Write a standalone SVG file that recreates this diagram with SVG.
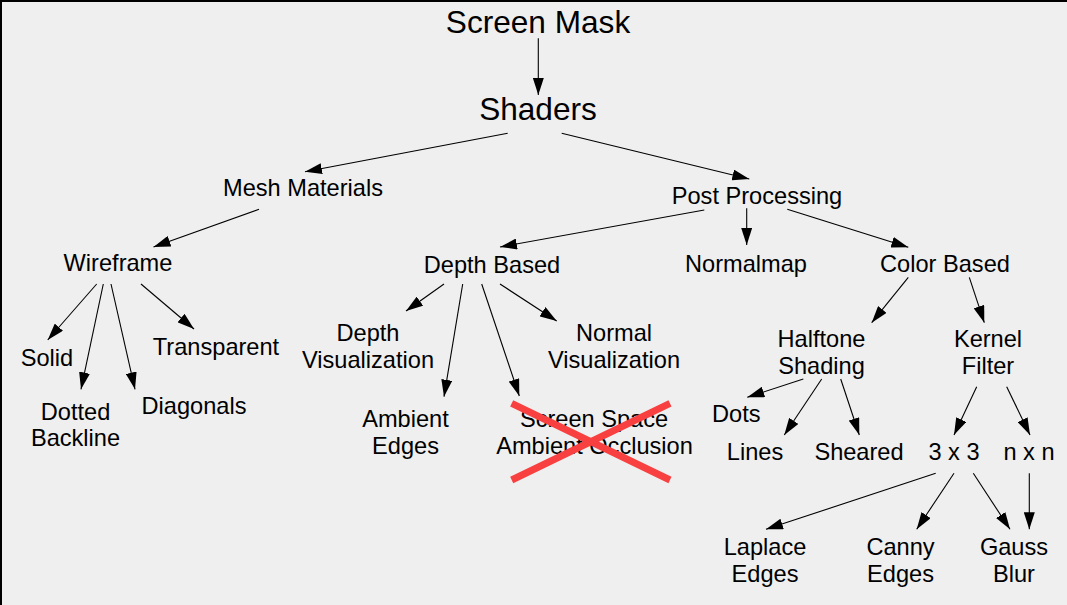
<svg xmlns="http://www.w3.org/2000/svg" width="1067" height="605" viewBox="0 0 1067 605">
<defs>
<style>
text{font-family:"Liberation Sans",Arial,sans-serif;fill:#000;text-anchor:middle;font-size:23.6px}
.big{font-size:31.6px}
.c{fill:none;stroke:#000;stroke-width:1.1}
.x{stroke:#f84040;stroke-width:7;fill:none}
</style>
<marker id="ah" markerUnits="userSpaceOnUse" markerWidth="17" markerHeight="11" refX="17" refY="5.5" orient="auto">
<path d="M0,0 L17,5.5 L0,11 z" fill="#000"/>
</marker>
</defs>
<rect width="1067" height="605" fill="#efefef"/>
<path d="M1,605 V1 H1067" fill="none" stroke="#000" stroke-width="2"/>
<g id="connectors">
<path class="c" marker-end="url(#ah)" d="M538.3,38.3 L538.3,95"/>
<path class="c" marker-end="url(#ah)" d="M507.7,133.3 L305,171.7"/>
<path class="c" marker-end="url(#ah)" d="M561.7,133.3 L749.3,179"/>
<path class="c" marker-end="url(#ah)" d="M259,209.3 L153.5,247"/>
<path class="c" marker-end="url(#ah)" d="M704.3,210 L500,247"/>
<path class="c" marker-end="url(#ah)" d="M746.7,208.3 L746.7,245"/>
<path class="c" marker-end="url(#ah)" d="M787.3,209.3 L908.3,247.3"/>
<path class="c" marker-end="url(#ah)" d="M908.3,277.3 L871.7,322.7"/>
<path class="c" marker-end="url(#ah)" d="M969.3,277.3 L984.3,322.7"/>
<path class="c" marker-end="url(#ah)" d="M96.7,284 L47.7,340"/>
<path class="c" marker-end="url(#ah)" d="M103.3,284 L81,389.3"/>
<path class="c" marker-end="url(#ah)" d="M111,284 L135,389.3"/>
<path class="c" marker-end="url(#ah)" d="M141,284 L194,329"/>
<path class="c" marker-end="url(#ah)" d="M444,284 L406,311"/>
<path class="c" marker-end="url(#ah)" d="M462.7,284 L444,396.7"/>
<path class="c" marker-end="url(#ah)" d="M481.7,284 L519.3,396"/>
<path class="c" marker-end="url(#ah)" d="M500,284 L556.7,321"/>
<path class="c" marker-end="url(#ah)" d="M803.3,379 L747.3,397.3"/>
<path class="c" marker-end="url(#ah)" d="M821.7,379 L784.3,435"/>
<path class="c" marker-end="url(#ah)" d="M840.7,379 L859.3,435"/>
<path class="c" marker-end="url(#ah)" d="M976.7,386.7 L954,435"/>
<path class="c" marker-end="url(#ah)" d="M1006.7,386.7 L1030,435"/>
<path class="c" marker-end="url(#ah)" d="M935.7,473.3 L766,529.3"/>
<path class="c" marker-end="url(#ah)" d="M954,473.3 L916.7,529.3"/>
<path class="c" marker-end="url(#ah)" d="M973.3,473.3 L1010,529.3"/>
<path class="c" marker-end="url(#ah)" d="M1029.3,473.3 L1029.3,529.3"/>
</g>
<g id="screen-mask"><text class="big" x="538" y="33">Screen Mask</text></g>
<g id="shaders"><text class="big" x="538" y="120">Shaders</text></g>
<g id="mesh-materials"><text x="303" y="196">Mesh Materials</text></g>
<g id="post-processing"><text x="757" y="204">Post Processing</text></g>
<g id="wireframe"><text x="118" y="271">Wireframe</text></g>
<g id="depth-based"><text x="492" y="272.5">Depth Based</text></g>
<g id="normalmap"><text x="746" y="272">Normalmap</text></g>
<g id="color-based"><text x="945" y="272">Color Based</text></g>
<g id="solid"><text x="47" y="366">Solid</text></g>
<g id="transparent"><text x="216" y="354.5">Transparent</text></g>
<g id="dotted-backline"><text x="75.5" y="420">Dotted</text><text x="75.5" y="446">Backline</text></g>
<g id="diagonals"><text x="194" y="414">Diagonals</text></g>
<g id="depth-visualization"><text x="368" y="341">Depth</text><text x="368" y="367.5">Visualization</text></g>
<g id="normal-visualization"><text x="614" y="341">Normal</text><text x="614" y="367.5">Visualization</text></g>
<g id="ambient-edges"><text x="405.5" y="427">Ambient</text><text x="405.5" y="453.5">Edges</text></g>
<g id="ssao"><text x="594" y="427">Screen Space</text><text x="594.5" y="453.5">Ambient Occlusion</text>
<path class="x" d="M511.7,403.3 L670,480 M511.7,480 L670,403.3"/></g>
<g id="halftone-shading"><text x="821.5" y="347">Halftone</text><text x="821.5" y="373.5">Shading</text></g>
<g id="kernel-filter"><text x="988" y="347">Kernel</text><text x="988" y="373.5">Filter</text></g>
<g id="dots"><text x="736.3" y="422">Dots</text></g>
<g id="lines"><text x="755" y="460">Lines</text></g>
<g id="sheared"><text x="859" y="460">Sheared</text></g>
<g id="k3x3"><text x="954" y="460">3 x 3</text></g>
<g id="knxn"><text x="1029" y="460">n x n</text></g>
<g id="laplace-edges"><text x="765" y="555">Laplace</text><text x="765" y="581.7">Edges</text></g>
<g id="canny-edges"><text x="900.5" y="555">Canny</text><text x="900.5" y="581.7">Edges</text></g>
<g id="gauss-blur"><text x="1014" y="555">Gauss</text><text x="1014" y="581.7">Blur</text></g>
</svg>
